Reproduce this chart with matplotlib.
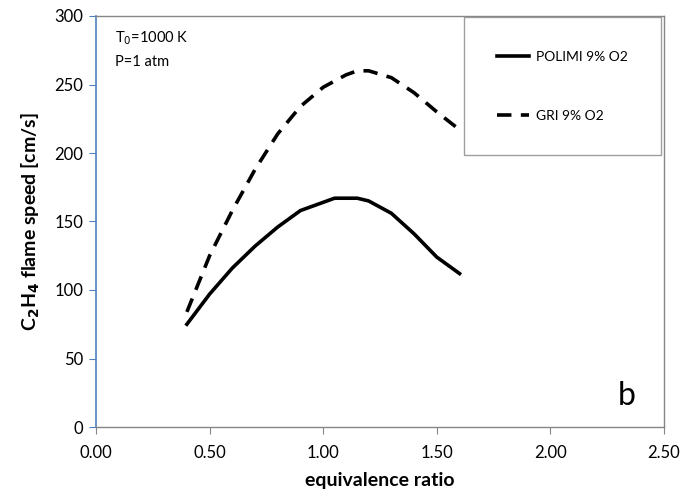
import matplotlib
matplotlib.use('Agg')
import matplotlib.pyplot as plt

plt.rcParams['font.family'] = ['Lato', 'DejaVu Sans']

phi_polimi = [0.4, 0.5, 0.6, 0.7, 0.8, 0.9, 1.0, 1.05, 1.1, 1.15, 1.2, 1.3, 1.4, 1.5, 1.6]
sl_polimi = [75, 97, 116, 132, 146, 158, 164, 167, 167, 167, 165, 156, 141, 124, 112]

phi_gri = [0.4, 0.5, 0.6, 0.7, 0.8, 0.9, 1.0, 1.1, 1.15, 1.2, 1.3, 1.4, 1.5, 1.6]
sl_gri = [84, 125, 158, 188, 214, 234, 248, 257, 260, 260, 255, 244, 230, 217]

xticks = [0.0, 0.5, 1.0, 1.5, 2.0, 2.5]
yticks = [0, 50, 100, 150, 200, 250, 300]

fig = plt.figure(figsize=(6.86, 5.03), dpi=100)
ax = fig.add_axes([96 / 686, 76 / 503, 568 / 686, 411 / 503])

ax.plot(phi_polimi, sl_polimi, color='black', lw=2.6, label='POLIMI 9% O2')
ax.plot(phi_gri, sl_gri, color='black', lw=2.6, dashes=(4.0, 2.6), label='GRI 9% O2')

ax.set_xlim(0, 2.5)
ax.set_ylim(0, 300)
ax.set_xticks(xticks)
ax.set_xticklabels([f'{v:.2f}' for v in xticks])
ax.set_yticks(yticks)

grey = '#868686'
blue = '#4F81BD'
ax.spines['left'].set_color(blue)
ax.spines['left'].set_linewidth(1.2)
for s in ['bottom', 'top', 'right']:
    ax.spines[s].set_color(grey)
    ax.spines[s].set_linewidth(1.0)
ax.tick_params(axis='y', direction='out', length=5, color=blue, labelsize=12, pad=4)
ax.tick_params(axis='x', direction='out', length=5, color=grey, labelsize=12, pad=8)

ax.set_xlabel('equivalence ratio', fontsize=14, fontweight='bold', labelpad=8)
ax.set_ylabel(r'C$_\mathbf{2}$H$_\mathbf{4}$ flame speed [cm/s]', fontsize=14,
              fontweight='bold', labelpad=9)

ax.text(0.033, 0.945, r'T$_0$=1000 K', transform=ax.transAxes, fontsize=10.5, va='center')
ax.text(0.033, 0.888, 'P=1 atm', transform=ax.transAxes, fontsize=10.5, va='center')
ax.text(0.935, 0.075, 'b', transform=ax.transAxes, fontsize=23, ha='center', va='center')

leg = ax.legend(loc='upper right', bbox_to_anchor=(0.995, 0.997), fontsize=10,
                frameon=True, fancybox=False, edgecolor=grey, handlelength=2.3,
                labelspacing=3.4, borderpad=2.4, borderaxespad=0, handletextpad=0.5)
leg.get_frame().set_linewidth(1.0)

fig.savefig('out.png', dpi=100)
